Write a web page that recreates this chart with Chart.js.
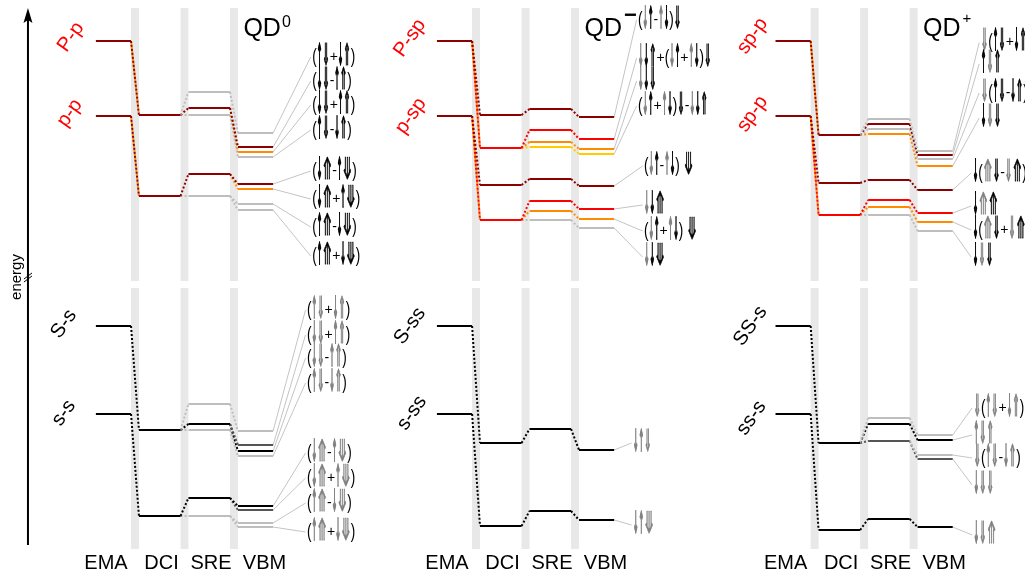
<!DOCTYPE html>
<html>
<head>
<meta charset="utf-8">
<title>Exciton level diagram</title>
<script src="https://cdn.jsdelivr.net/npm/chart.js@4.4.1/dist/chart.umd.min.js"></script>
<style>
  html, body { margin: 0; padding: 0; background: #ffffff; }
  #wrap { width: 1025px; height: 574px; }
  canvas { display: block; }
</style>
</head>
<body>
<div id="wrap"><canvas id="levels" width="1025" height="574"></canvas></div>
<script>
// ---------------------------------------------------------------------------
// Data
// ---------------------------------------------------------------------------
const columns = ['EMA', 'DCI', 'SRE', 'VBM'];
const panelTitles = ['QD', 'QD', 'QD'];
const panelCharges = ['0', '\u2212', '+'];

// Levels: [column index, energy (arb. units), character tag]
// Links:  [from level, to level, tag(s)]  (dotted connectors between columns)
// Spins:  [configuration text, level it belongs to]   ('~' = dimmed spin)

// QD0, p manifold
const qd0P_names = ['P-p', 'p-p'];
const qd0P_levels = [
  [0, 53.3, 'dr'], [0, 45.8, 'dr'],
  [1, 45.9, 'dr'], [1, 37.8, 'dr'],
  [2, 48.2, 'g'], [2, 46.6, 'dr'], [2, 45.9, 'g'], [2, 40.0, 'dr'], [2, 37.8, 'g'],
  [3, 44.1, 'g'], [3, 42.7, 'dr'], [3, 42.2, 'o'], [3, 41.7, 'g'],
  [3, 39.0, 'dr'], [3, 38.5, 'o'], [3, 37.0, 'g'], [3, 36.4, 'g']
];
const qd0P_links = [
  [0, 2, 'dr/o'], [1, 3, 'dr/o'],
  [2, 4, 'g'], [2, 5, 'dr'], [2, 6, 'g'], [3, 7, 'dr'], [3, 8, 'g'],
  [4, 9, 'g'], [5, 10, 'dr'], [5, 11, 'o'], [6, 12, 'g'],
  [7, 13, 'dr'], [7, 14, 'o'], [8, 15, 'g'], [8, 16, 'g']
];
const qd0P_spins = [
  ['(↑⇓+↓⇑)', 9], ['(↓⇓-↑⇑)', 10], ['(↓⇓+↑⇑)', 11], ['(↑⇓-↓⇑)', 12],
  ['(↓⤊-↑⤋)', 13], ['(↓⤊+↑⤋)', 14], ['(↑⤊-↓⤋)', 15], ['(↑⤊+↓⤋)', 16]
];

// QD0, s manifold
const qd0S_names = ['S-s', 's-s'];
const qd0S_levels = [
  [0, 24.8, 'k'], [0, 16.0, 'k'],
  [1, 14.4, 'k'], [1, 5.8, 'k'],
  [2, 17.0, 'g'], [2, 15.0, 'k'], [2, 14.4, 'g'], [2, 7.6, 'k'], [2, 5.8, 'g'],
  [3, 14.3, 'g'], [3, 12.9, 'dg'], [3, 12.3, 'k'], [3, 11.8, 'g'],
  [3, 6.8, 'k'], [3, 6.4, 'dg'], [3, 5.1, 'g'], [3, 4.7, 'g']
];
const qd0S_links = [
  [0, 2, 'k'], [1, 3, 'k'],
  [2, 4, 'g'], [2, 5, 'k'], [2, 6, 'g'], [3, 7, 'k'], [3, 8, 'g'],
  [4, 9, 'g'], [5, 10, 'dg'], [5, 11, 'k'], [6, 12, 'g'],
  [7, 13, 'k'], [7, 14, 'dg'], [8, 15, 'g'], [8, 16, 'g']
];
const qd0S_spins = [
  ['(~↑~⇓+~↓~⇑)', 9], ['(~↓~⇓+~↑~⇑)', 10], ['(~↓~⇓-~↑~⇑)', 11], ['(~↑~⇓-~↓~⇑)', 12],
  ['(~↓~⤊-~↑~⤋)', 13], ['(~↓~⤊+~↑~⤋)', 14], ['(~↑~⤊-~↓~⤋)', 15], ['(~↑~⤊+~↓~⤋)', 16]
];

// QD-, p manifold
const qdmP_names = ['P-sp', 'p-sp'];
const qdmP_levels = [
  [0, 53.3, 'dr'], [0, 45.8, 'dr'],
  [1, 45.9, 'dr'], [1, 42.6, 'r'], [1, 38.9, 'dr'], [1, 35.4, 'r'],
  [2, 46.5, 'dr'], [2, 44.4, 'r'], [2, 43.2, 'o'], [2, 42.7, 'y'],
  [2, 39.5, 'dr'], [2, 37.3, 'r'], [2, 36.3, 'o'], [2, 35.4, 'g'],
  [3, 45.7, 'dr'], [3, 43.5, 'r'], [3, 42.5, 'o'], [3, 42.0, 'y'],
  [3, 38.8, 'dr'], [3, 36.5, 'r'], [3, 35.5, 'o'], [3, 34.6, 'g']
];
const qdmP_links = [
  [0, 2, 'dr'], [0, 3, 'r/o'], [1, 4, 'dr'], [1, 5, 'r/o'],
  [2, 6, 'dr'], [3, 7, 'r'], [3, 8, 'o'], [3, 9, 'y'],
  [4, 10, 'dr'], [5, 11, 'r'], [5, 12, 'o'], [5, 13, 'g'],
  [6, 14, 'dr'], [7, 15, 'r'], [8, 16, 'o'], [9, 17, 'y'],
  [10, 18, 'dr'], [11, 19, 'r'], [12, 20, 'o'], [13, 21, 'g']
];
const qdmP_spins = [
  ['(~↓↑-~↑↓)⇓', 14], ['~↓↓⇑+(~↓↑+~↑↓)⇓', 15], ['~↓↓⇓', 16], ['(~↓↑+~↑↓)⇓-~↓↓⇑', 17],
  ['(~↓↑-~↑↓) ⤋', 18], ['~↓↓⤊', 19], ['(~↓↑+~↑↓) ⤋', 20], ['~↓↓⤋', 21]
];

// QD-, s manifold
const qdmS_names = ['S-ss', 's-ss'];
const qdmS_levels = [
  [0, 24.8, 'k'], [0, 16.0, 'k'],
  [1, 13.1, 'k'], [1, 4.8, 'k'],
  [2, 14.5, 'k'], [2, 6.3, 'k'],
  [3, 12.4, 'k'], [3, 5.4, 'k']
];
const qdmS_links = [
  [0, 2, 'k'], [1, 3, 'k'], [2, 4, 'k'], [3, 5, 'k'], [4, 6, 'k'], [5, 7, 'k']
];
const qdmS_spins = [
  ['~↓~↑~⇓', 6], ['~↓~↑~⤋', 7]
];

// QD+, p manifold
const qdpP_names = ['sp-p', 'sp-p'];
const qdpP_levels = [
  [0, 53.3, 'dr'], [0, 45.8, 'dr'],
  [1, 43.9, 'dr'], [1, 39.1, 'dr'], [1, 35.9, 'r'],
  [2, 45.5, 'g'], [2, 45.0, 'dr'], [2, 44.5, 'g'], [2, 44.0, 'o'],
  [2, 39.4, 'dr'], [2, 37.4, 'r'], [2, 36.7, 'o'], [2, 35.9, 'g'],
  [3, 42.3, 'g'], [3, 41.9, 'dr'], [3, 41.5, 'g'], [3, 40.8, 'o'],
  [3, 38.4, 'dr'], [3, 36.1, 'r'], [3, 35.2, 'o'], [3, 34.3, 'g']
];
const qdpP_links = [
  [0, 2, 'dr/o'], [1, 3, 'dr'], [1, 4, 'r/o'],
  [2, 5, 'g'], [2, 6, 'dr'], [2, 7, 'g'], [2, 8, 'o'],
  [3, 9, 'dr'], [4, 10, 'r'], [4, 11, 'o'], [4, 12, 'g'],
  [5, 13, 'g'], [6, 14, 'dr'], [7, 15, 'g'], [8, 16, 'o'],
  [9, 17, 'dr'], [10, 18, 'r'], [11, 19, 'o'], [12, 20, 'g']
];
const qdpP_spins = [
  ['~⇓(↑⇓+↓⇑)', 13], ['↑~⇓⇑', 14], ['~⇓(↑⇓-↓⇑)', 15], ['↓~⇓⇓', 16],
  ['↓(~⤊⇓-~⇓⤊)', 17], ['↓~⤊⤊', 18], ['↓(~⤊⇓+~⇓⤊)', 19], ['↓~⇓⇓', 20]
];

// QD+, s manifold
const qdpS_names = ['SS-s', 'ss-s'];
const qdpS_levels = [
  [0, 24.8, 'k'], [0, 16.0, 'k'],
  [1, 13.1, 'k'], [1, 4.4, 'k'],
  [2, 15.6, 'g'], [2, 15.0, 'k'], [2, 13.3, 'dg'], [2, 5.5, 'k'],
  [3, 13.9, 'g'], [3, 13.4, 'k'], [3, 11.9, 'g'], [3, 11.5, 'dg'], [3, 4.7, 'k']
];
const qdpS_links = [
  [0, 2, 'k'], [1, 3, 'k'],
  [2, 4, 'g'], [2, 5, 'k'], [2, 6, 'dg'], [3, 7, 'k'],
  [4, 8, 'g'], [5, 9, 'k'], [6, 10, 'g'], [6, 11, 'dg'], [7, 12, 'k']
];
const qdpS_spins = [
  ['~⇓(~↑~⇓+~↓~⇑)', 8], ['~↑~⇓~⇑', 9], ['~⇓(~↑~⇓-~↓~⇑)', 10], ['~↓~⇓~⇓', 11], ['~↓~⇓~⤊', 12]
];

// ---------------------------------------------------------------------------
// Layout and style
// ---------------------------------------------------------------------------
const PALETTE = {
  dr: '#8b0000', r: '#ff0000', o: '#ff8c00', y: '#ffcc00',
  g: '#bebebe', k: '#000000', dg: '#555555'
};
const X_MIN = -2.227, X_MAX = 18.48;          // horizontal diagram units
const Y_MIN = 0, Y_MAX = 57.4;                // energy (arb. units)
const PANEL_OFFSET = [0, 6.89, 13.73];
const COL_SPAN = [[-0.29, 0.42], [0.58, 1.42], [1.58, 2.42], [2.58, 3.29]];
const COL_LABEL_X = [-0.086, 1.035, 2.035, 3.116];
const BAND_RANGES = [[56.6, 29.3], [28.6, 2.5]];
const AXIS_X = -1.662;

const blocks = [
  { panel: 0, levels: qd0P_levels, links: qd0P_links, spins: qd0P_spins, names: qd0P_names, nameColor: '#ff0000',
    spinX: [4.08], spinY: [51.7, 49.3, 46.9, 44.4, 40.3, 37.5, 34.7, 31.8],
    nameOffset: [[-25, -4], [-26, -3]] },
  { panel: 0, levels: qd0S_levels, links: qd0S_links, spins: qd0S_spins, names: qd0S_names, nameColor: '#000000',
    spinX: [3.975], spinY: [26.4, 23.9, 21.6, 19.1, 12.1, 9.6, 7.1, 4.2],
    nameOffset: [[-32, -2], [-32, -1]] },
  { panel: 1, levels: qdmP_levels, links: qdmP_links, spins: qdmP_spins, names: qdmP_names, nameColor: '#ff0000',
    spinX: [3.773, 3.773, 3.773, 3.773, 3.894, 3.894, 3.894, 3.894],
    spinY: [55.4, 51.6, 49.3, 46.8, 40.8, 36.9, 34.3, 31.7],
    nameOffset: [[-27, -3], [-26, 0]] },
  { panel: 1, levels: qdmS_levels, links: qdmS_links, spins: qdmS_spins, names: qdmS_names, nameColor: '#000000',
    spinX: [3.672], spinY: [13.1, 4.9],
    nameOffset: [[-27, 0], [-25, -1]] },
  { panel: 2, levels: qdpP_levels, links: qdpP_links, spins: qdpP_spins, names: qdpP_names, nameColor: '#ff0000',
    spinX: [3.854, 3.854, 3.854, 3.854, 3.692, 3.692, 3.692, 3.692],
    spinY: [53.15, 51.0, 48.1, 45.6, 40.1, 36.8, 34.4, 31.7],
    nameOffset: [[-23, -5], [-23, -2]] },
  { panel: 2, levels: qdpS_levels, links: qdpS_links, spins: qdpS_spins, names: qdpS_names, nameColor: '#000000',
    spinX: [3.712], spinY: [16.6, 13.9, 11.6, 8.9, 3.9],
    nameOffset: [[-25, 0], [-24, 4]] }
];

const INK = '#000000';
const DIM = '#808080';
const ARROW_FONT = '30px "DejaVu Sans", sans-serif';
const PAREN_FONT = '21px "Liberation Sans", sans-serif';
const OP_FONT = '14px "Liberation Sans", sans-serif';
// glyph -> [font, advance (px), extra stroke weight (px)]
const GLYPHS = {
  '↑': [ARROW_FONT, 5.5, 0.45], '↓': [ARROW_FONT, 5.5, 0.45],
  '⇑': [ARROW_FONT, 7.5, 0.35], '⇓': [ARROW_FONT, 7.5, 0.35],
  '⤊': [ARROW_FONT, 10, 0.3], '⤋': [ARROW_FONT, 10, 0.3],
  '(': [PAREN_FONT, 4.5, 0], ')': [PAREN_FONT, 4.5, 0]
};

// ---------------------------------------------------------------------------
// Datasets
// ---------------------------------------------------------------------------
function lineSet(points, color, width, dash, dashOffset, order) {
  return {
    data: points, borderColor: color, borderWidth: width,
    borderDash: dash, borderDashOffset: dashOffset,
    pointRadius: 0, pointHoverRadius: 0, fill: false, tension: 0,
    borderCapStyle: 'butt', order: order
  };
}

const datasets = [];
blocks.forEach(b => {
  const off = PANEL_OFFSET[b.panel];
  b.levels.forEach(([c, e, tag]) => {
    datasets.push(lineSet([{ x: off + COL_SPAN[c][0], y: e }, { x: off + COL_SPAN[c][1], y: e }],
      PALETTE[tag], 2, [], 0, 0));
  });
  b.links.forEach(([i, j, tags]) => {
    const [ci, ei] = b.levels[i];
    const [cj, ej] = b.levels[j];
    const pts = [{ x: off + COL_SPAN[ci][1], y: ei }, { x: off + COL_SPAN[cj][0], y: ej }];
    const parts = tags.split('/');
    parts.forEach((t, k) => {
      datasets.push(lineSet(pts, PALETTE[t], 2, [2, 2 * parts.length - 2 || 2], 2 * k, 1));
    });
  });
  b.spins.forEach(([, target], k) => {
    const [, e] = b.levels[target];
    const sx = b.spinX[Math.min(k, b.spinX.length - 1)];
    datasets.push(lineSet([{ x: off + COL_SPAN[3][1], y: e }, { x: off + sx - 0.03, y: b.spinY[k] }],
      '#c4c4c4', 1, [], 0, 2));
  });
});

// ---------------------------------------------------------------------------
// Decorations: shaded transition bands, energy axis and all text
// ---------------------------------------------------------------------------
function drawSpinLabel(ctx, text, x0, yMid) {
  let cx = x0;
  ctx.textBaseline = 'middle';
  ctx.textAlign = 'left';
  for (let i = 0; i < text.length; i++) {
    let ch = text[i];
    let color = INK;
    if (ch === '~') { color = DIM; ch = text[++i]; }
    ctx.fillStyle = color;
    ctx.strokeStyle = color;
    const g = GLYPHS[ch];
    if (g) {
      const [font, adv, weight] = g;
      ctx.font = font;
      const w = ctx.measureText(ch).width || adv;
      const sx = adv / w;
      ctx.save();
      ctx.translate(cx, yMid);
      ctx.scale(sx, 1);
      ctx.fillText(ch, 0, 0);
      if (weight > 0) {
        ctx.lineWidth = weight / sx;
        ctx.lineJoin = 'miter';
        ctx.strokeText(ch, 0, 0);
      }
      ctx.restore();
      cx += adv;
    } else {
      ctx.font = OP_FONT;
      ctx.fillText(ch, cx, yMid);
      cx += ctx.measureText(ch).width;
    }
  }
}

const decor = {
  id: 'decor',
  beforeDatasetsDraw(chart) {
    const { ctx, scales: { x, y } } = chart;
    ctx.save();
    ctx.fillStyle = '#e8e8e8';
    PANEL_OFFSET.forEach(off => {
      for (let k = 0; k < 3; k++) {
        const x1 = x.getPixelForValue(off + k + 0.42);
        const x2 = x.getPixelForValue(off + k + 0.58);
        BAND_RANGES.forEach(([top, bot]) => {
          const y1 = y.getPixelForValue(top), y2 = y.getPixelForValue(bot);
          ctx.fillRect(x1, y1, x2 - x1, y2 - y1);
        });
      }
    });
    ctx.restore();
  },
  afterDatasetsDraw(chart) {
    const { ctx, scales: { x, y } } = chart;
    ctx.save();

    // energy axis with arrow head and break mark
    const ax = x.getPixelForValue(AXIS_X);
    const yBot = y.getPixelForValue(2.9), yTop = y.getPixelForValue(56.6);
    const yBreak = y.getPixelForValue(29.7);
    ctx.strokeStyle = '#000';
    ctx.lineWidth = 2;
    ctx.beginPath();
    ctx.moveTo(ax, yBot);
    ctx.lineTo(ax, yTop + 10);
    ctx.stroke();
    ctx.fillStyle = '#000';
    ctx.beginPath();
    ctx.moveTo(ax, yTop);
    ctx.lineTo(ax - 4.5, yTop + 15);
    ctx.lineTo(ax, yTop + 12);
    ctx.lineTo(ax + 4.5, yTop + 15);
    ctx.closePath();
    ctx.fill();
    ctx.lineWidth = 1;
    ctx.beginPath();
    ctx.moveTo(ax - 4, yBreak + 2); ctx.lineTo(ax + 4, yBreak - 4);
    ctx.moveTo(ax - 4, yBreak + 5); ctx.lineTo(ax + 4, yBreak - 1);
    ctx.stroke();

    ctx.save();
    ctx.translate(ax - 11, yBreak);
    ctx.rotate(-Math.PI / 2);
    ctx.font = '15px "Liberation Sans", sans-serif';
    ctx.textAlign = 'center';
    ctx.textBaseline = 'middle';
    ctx.fillStyle = '#000';
    ctx.fillText('energy', 0, 0);
    ctx.restore();

    PANEL_OFFSET.forEach((off, p) => {
      // column headings
      ctx.font = '20px "Liberation Sans", sans-serif';
      ctx.textAlign = 'center';
      ctx.textBaseline = 'alphabetic';
      ctx.fillStyle = '#000';
      columns.forEach((name, c) => {
        ctx.fillText(name, x.getPixelForValue(off + COL_LABEL_X[c]), y.getPixelForValue(0.5));
      });

      // panel title with charge superscript
      const tx = x.getPixelForValue(off + 2.69);
      ctx.textAlign = 'left';
      ctx.font = '25px "Liberation Sans", sans-serif';
      ctx.fillText(panelTitles[p], tx, y.getPixelForValue(53.8));
      const tw = ctx.measureText(panelTitles[p]).width;
      if (p === 0) {
        ctx.font = '16px "Liberation Sans", sans-serif';
        ctx.fillText(panelCharges[p], tx + tw + 1, y.getPixelForValue(54.7));
      } else if (p === 1) {
        ctx.font = 'bold 22px "Liberation Sans", sans-serif';
        ctx.fillText(panelCharges[p], tx + tw + 2, y.getPixelForValue(55.2));
      } else {
        ctx.font = '15px "Liberation Sans", sans-serif';
        ctx.fillText(panelCharges[p], tx + tw + 2, y.getPixelForValue(55.1));
      }
    });

    blocks.forEach(b => {
      const off = PANEL_OFFSET[b.panel];
      // rotated manifold names next to the EMA levels
      const x0 = x.getPixelForValue(off + COL_SPAN[0][0]);
      b.names.forEach((name, k) => {
        const e = b.levels[k][1];
        const [dx, dy] = b.nameOffset[k];
        ctx.save();
        ctx.translate(x0 + dx, y.getPixelForValue(e) + dy);
        ctx.rotate(-55 * Math.PI / 180);
        ctx.font = '20px "Liberation Sans", sans-serif';
        ctx.textAlign = 'center';
        ctx.textBaseline = 'middle';
        ctx.fillStyle = b.nameColor;
        ctx.fillText(name, 0, 0);
        ctx.restore();
      });
      // spin configurations
      b.spins.forEach(([text], k) => {
        const sx = b.spinX[Math.min(k, b.spinX.length - 1)];
        drawSpinLabel(ctx, text, x.getPixelForValue(off + sx), y.getPixelForValue(b.spinY[k]));
      });
    });

    ctx.restore();
  }
};

new Chart(document.getElementById('levels'), {
  type: 'line',
  data: { datasets },
  options: {
    responsive: false,
    animation: false,
    devicePixelRatio: 1,
    events: [],
    layout: { padding: 0 },
    plugins: { legend: { display: false }, tooltip: { enabled: false }, title: { display: false } },
    scales: {
      x: { type: 'linear', min: X_MIN, max: X_MAX, display: false },
      y: { type: 'linear', min: Y_MIN, max: Y_MAX, display: false }
    }
  },
  plugins: [decor]
});
</script>
</body>
</html>
